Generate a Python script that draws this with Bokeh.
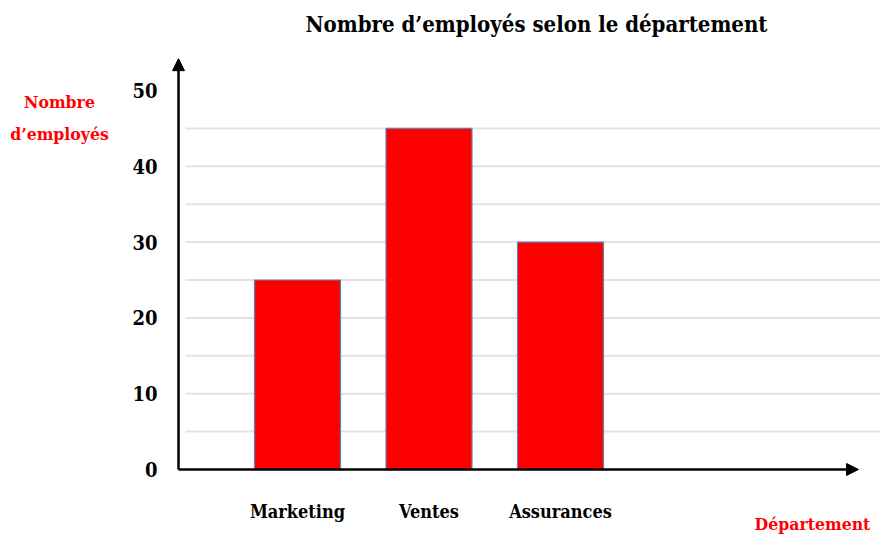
from bokeh.plotting import figure
from bokeh.models import FixedTicker, Arrow, NormalHead, Label, Range1d
from bokeh.embed import file_html
from bokeh.resources import INLINE

categories = ["Marketing", "Ventes", "Assurances"]
values = [25, 45, 30]
y_ticks = [0, 10, 20, 30, 40, 50]
grid_ticks = [5, 10, 15, 20, 25, 30, 35, 40, 45]
title_text = "Nombre d’employés selon le département"
y_title = ["Nombre", "d’employés"]
x_title = "Département"

FONT = "DejaVu Serif Condensed"
positions = list(range(1, len(categories) + 1))

# data window (whole canvas is the plotting frame)
x0, x1 = -1.2586, 5.4563
y0, y1 = -9.235, 61.873
x_axis_pos = 0.0951

p = figure(width=883, height=539, x_range=Range1d(x0, x1), y_range=Range1d(y0, y1),
           min_border=0, title=None, output_backend="svg", toolbar_location=None)
p.outline_line_color = None

# light horizontal grid lines (start right of the vertical axis)
p.segment(x0=[0.148] * len(grid_ticks), y0=grid_ticks, x1=[5.433] * len(grid_ticks), y1=grid_ticks,
          line_color="#e3e3e3", line_width=2)

p.vbar(x=positions, top=values, width=0.654, fill_color="#ff0000",
       line_color="#5b86b8", line_width=1.2)

p.yaxis.fixed_location = x_axis_pos
p.yaxis.ticker = FixedTicker(ticks=y_ticks)
p.yaxis.axis_line_color = None
p.yaxis.major_tick_line_color = None
p.yaxis.minor_tick_line_color = None
p.yaxis.major_tick_out = 0
p.yaxis.major_tick_in = 0
p.yaxis.major_label_standoff = 21
p.yaxis.major_label_text_font = FONT
p.yaxis.major_label_text_font_style = "bold"
p.yaxis.major_label_text_font_size = "20px"
p.yaxis.major_label_text_color = "black"

p.xaxis.fixed_location = 0
p.xaxis.ticker = FixedTicker(ticks=positions)
p.xaxis.major_label_overrides = {pos: c for pos, c in zip(positions, categories)}
p.xaxis.axis_line_color = None
p.xaxis.major_tick_line_color = None
p.xaxis.minor_tick_line_color = None
p.xaxis.major_tick_out = 0
p.xaxis.major_tick_in = 0
p.xaxis.major_label_standoff = 32
p.xaxis.major_label_text_font = FONT
p.xaxis.major_label_text_font_style = "bold"
p.xaxis.major_label_text_font_size = "18px"
p.xaxis.major_label_text_color = "black"

p.xgrid.visible = False
p.ygrid.visible = False

p.add_layout(Arrow(end=NormalHead(size=12, fill_color="black", line_color="black"),
                   x_start=x_axis_pos, y_start=0, x_end=x_axis_pos, y_end=54.2,
                   line_width=2.5, line_color="black"))
p.add_layout(Arrow(end=NormalHead(size=12, fill_color="black", line_color="black"),
                   x_start=x_axis_pos, y_start=0, x_end=5.266, y_end=0,
                   line_width=2.5, line_color="black"))

p.add_layout(Label(x=2.8175, y=58.75, text=title_text, text_align="center", text_baseline="alphabetic",
                   text_font=FONT, text_font_style="bold", text_font_size="22px",
                   text_color="black"))
for txt, yy in zip(y_title, [48.42, 44.2]):
    p.add_layout(Label(x=-0.81, y=yy, text=txt, text_align="center", text_baseline="alphabetic",
                       text_font=FONT, text_font_style="bold", text_font_size="17.5px",
                       text_color="#ff0000"))
p.add_layout(Label(x=4.916, y=-7.13, text=x_title, text_align="center", text_baseline="alphabetic",
                   text_font=FONT, text_font_style="bold", text_font_size="17.5px",
                   text_color="#ff0000"))

open("out.html", "w").write(file_html(p, INLINE))
